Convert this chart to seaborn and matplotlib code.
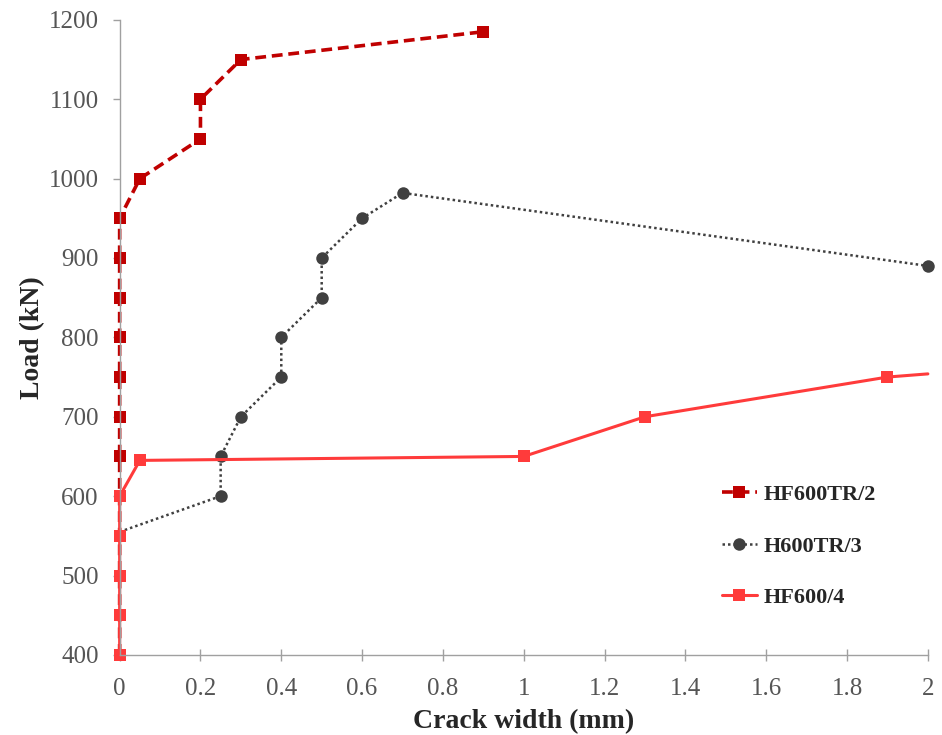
import pandas as pd
import seaborn as sns
import matplotlib.pyplot as plt
import matplotlib.ticker as ticker

# HF600TR/2
tr2_width = [0, 0, 0, 0, 0, 0, 0, 0, 0, 0, 0, 0.05, 0.2, 0.2, 0.3, 0.9]
tr2_load = [400, 450, 500, 550, 600, 650, 700, 750, 800, 850, 900, 950, 1000, 1050, 1100, 1150, 1185]
# H600TR/3
tr3_width = [0, 0.25, 0.25, 0.3, 0.4, 0.4, 0.5, 0.5, 0.6, 0.7, 2.0]
tr3_load = [555, 600, 650, 700, 750, 800, 850, 900, 950, 982, 890]
# HF600/4
f4_width = [0, 0, 0, 0, 0, 0.05, 1.0, 1.3, 1.9, 2.0]
f4_load = [400, 450, 500, 550, 600, 645, 650, 700, 750, 754]

names = ["HF600TR/2", "H600TR/3", "HF600/4"]
colors = ["#C00000", "#404040", "#FF3B3B"]


def main():
    sns.set_theme(style="white")
    plt.rcParams['font.family'] = ['Liberation Serif', 'DejaVu Serif']

    fig = plt.figure(figsize=(9.42, 7.35), dpi=100)
    ax = fig.add_axes([0.127, 0.109, 0.858, 0.864])

    tr2_w = [0] * (len(tr2_load) - len(tr2_width)) + tr2_width
    df1 = pd.DataFrame({"w": tr2_w, "p": tr2_load})
    df2 = pd.DataFrame({"w": tr3_width, "p": tr3_load})
    df3 = pd.DataFrame({"w": f4_width, "p": f4_load})

    sns.lineplot(data=df1, x="w", y="p", ax=ax, estimator=None, sort=False,
                 color=colors[0], linestyle=(0, (3, 1.6)), linewidth=2.6,
                 marker="s", markersize=9, markeredgewidth=0, label=names[0],
                 clip_on=False)
    sns.lineplot(data=df2, x="w", y="p", ax=ax, estimator=None, sort=False,
                 color=colors[1], linestyle=(0, (1, 1.2)), linewidth=1.8,
                 marker="o", markersize=9, markeredgewidth=0,
                 markevery=list(range(1, len(tr3_width))), label=names[1],
                 clip_on=False)
    sns.lineplot(data=df3, x="w", y="p", ax=ax, estimator=None, sort=False,
                 color=colors[2], linestyle="-", linewidth=2.2,
                 marker="s", markersize=9, markeredgewidth=0,
                 markevery=list(range(len(f4_width) - 1)), label=names[2],
                 clip_on=False)

    ax.set_xlim(0, 2)
    ax.set_ylim(400, 1200)
    ax.xaxis.set_major_locator(ticker.MultipleLocator(0.2))
    ax.yaxis.set_major_locator(ticker.MultipleLocator(100))
    ax.xaxis.set_major_formatter(ticker.FuncFormatter(lambda v, p: f"{v:g}"))

    for s in ["top", "right"]:
        ax.spines[s].set_visible(False)
    for s in ["left", "bottom"]:
        ax.spines[s].set_color("#a0a0a0")
        ax.spines[s].set_linewidth(1.0)
    ax.tick_params(axis="both", which="major", labelsize=18, colors="#a0a0a0",
                   labelcolor="#555555", length=5, width=1, left=True, bottom=True)
    ax.tick_params(axis="x", direction="inout", length=8, pad=13)
    ax.tick_params(axis="y", direction="out", pad=10)

    ax.set_xlabel("Crack width (mm)", fontsize=20, fontweight="bold", labelpad=6)
    ax.set_ylabel("Load (kN)", fontsize=20, fontweight="bold", labelpad=3)

    ax.legend(loc="upper left", bbox_to_anchor=(0.72, 0.30), frameon=False,
              prop={"weight": "bold", "size": 16}, handlelength=1.6,
              handletextpad=0.3, labelspacing=1.4)

    fig.savefig("out.png", dpi=100)


if __name__ == '__main__':
    main()
